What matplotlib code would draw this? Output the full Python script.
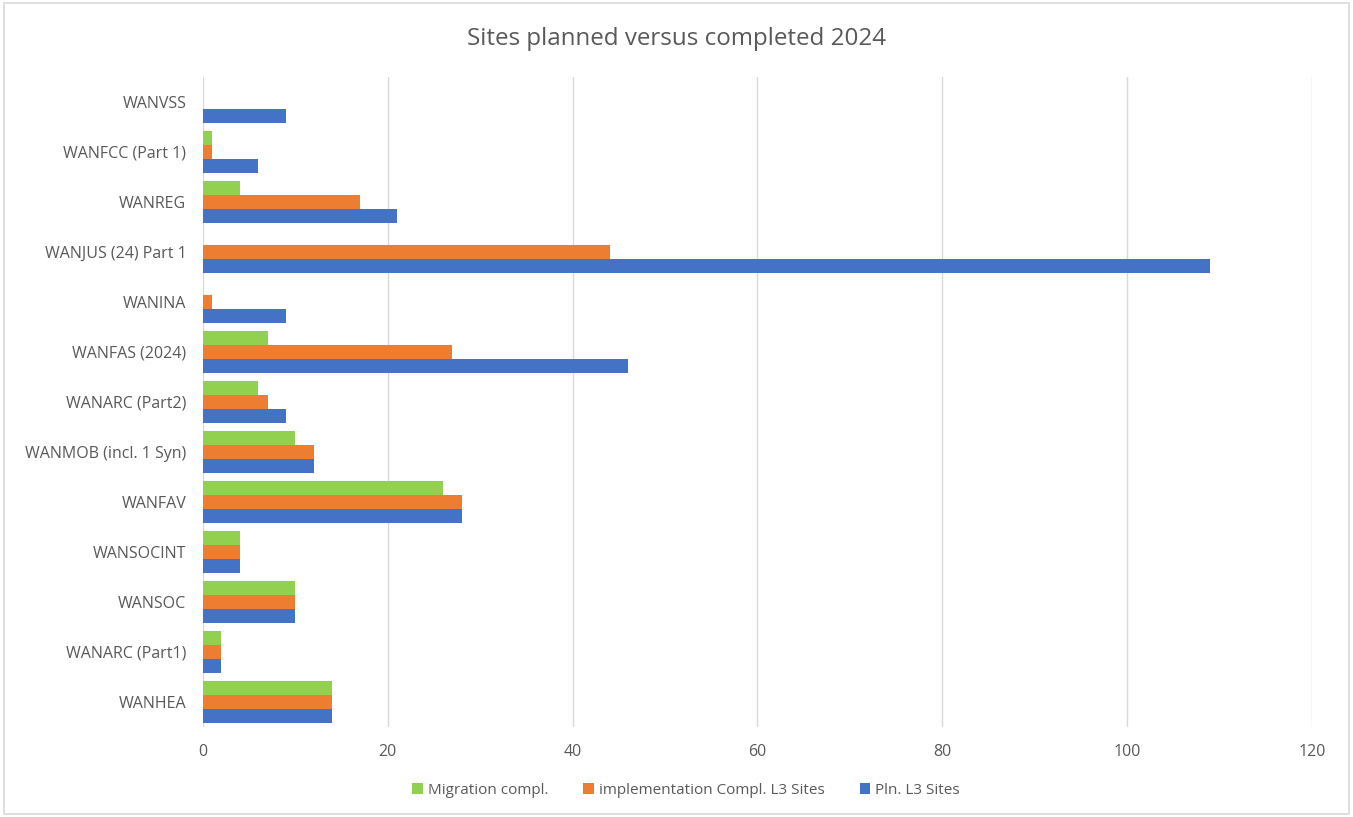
import matplotlib
matplotlib.use("Agg")
import matplotlib.pyplot as plt
from matplotlib.patches import Rectangle
import numpy as np

plt.rcParams['font.family'] = ['Open Sans', 'DejaVu Sans']

categories = ["WANHEA", "WANARC (Part1)", "WANSOC", "WANSOCINT", "WANFAV",
              "WANMOB (incl. 1 Syn)", "WANARC (Part2)", "WANFAS (2024)", "WANINA",
              "WANJUS (24) Part 1", "WANREG", "WANFCC (Part 1)", "WANVSS"]
pln_l3 = [14, 2, 10, 4, 28, 12, 9, 46, 9, 109, 21, 6, 9]
impl_l3 = [14, 2, 10, 4, 28, 12, 7, 27, 1, 44, 17, 1, 0]
migration = [14, 2, 10, 4, 26, 10, 6, 7, 0, 0, 4, 1, 0]
series_names = ["Migration compl.", "implementation Compl. L3 Sites", "Pln. L3 Sites"]
xticks = [0, 20, 40, 60, 80, 100, 120]

c_green = "#92D050"
c_orange = "#ED7D31"
c_blue = "#4472C4"
txt = "#595959"

fig = plt.figure(figsize=(13.53, 8.17), dpi=100)
ax = fig.add_axes([0.150, 0.1102, 0.8197, 0.7956])

y = np.arange(len(categories))
h = 0.28
ax.barh(y + h, migration, height=h, color=c_green, label=series_names[0], zorder=3)
ax.barh(y, impl_l3, height=h, color=c_orange, label=series_names[1], zorder=3)
ax.barh(y - h, pln_l3, height=h, color=c_blue, label=series_names[2], zorder=3)

ax.set_xlim(0, 120)
ax.set_ylim(-0.5, len(categories) - 0.5)
ax.set_xticks(xticks)
ax.set_yticks(y)
ax.set_yticklabels(categories)
ax.grid(axis='x', color="#D9D9D9", linewidth=1, zorder=0)
for s in ax.spines.values():
    s.set_visible(False)
ax.tick_params(axis='both', length=0, labelsize=11.5, colors=txt)
ax.tick_params(axis='y', pad=12)
ax.tick_params(axis='x', pad=12)

fig.text(0.5, 0.952, "Sites planned versus completed 2024", ha='center', va='center',
         fontsize=17.4, color=txt)

handles, labels = ax.get_legend_handles_labels()
leg = fig.legend(handles, labels, loc='center', bbox_to_anchor=(0.507, 0.033), ncol=3,
                 frameon=False, fontsize=11, handlelength=0.7, handleheight=0.7,
                 handletextpad=0.3, columnspacing=2.3)
for t in leg.get_texts():
    t.set_color(txt)

fig.patches.append(Rectangle((0.003, 0.004), 0.994, 0.992, transform=fig.transFigure,
                             fill=False, edgecolor="#D9D9D9", linewidth=1.2))

fig.savefig("out.png", dpi=100, facecolor="white")
